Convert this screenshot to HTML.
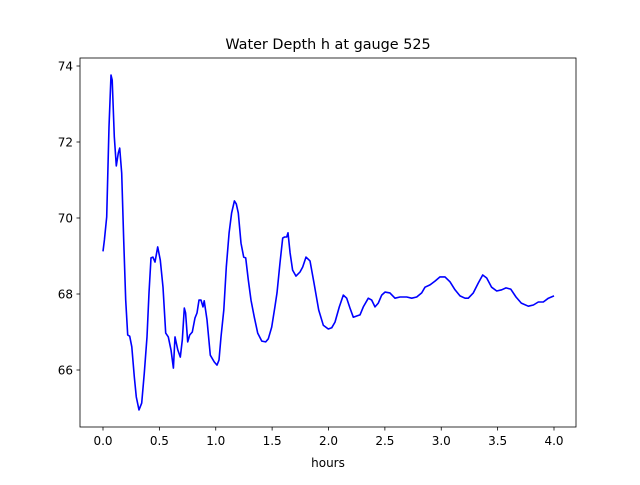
<!DOCTYPE html>
<html><head><meta charset="utf-8"><style>
body{margin:0;background:#fff}
svg text{font-family:"DejaVu Sans","Liberation Sans",sans-serif;fill:#000}
</style></head><body>
<svg id="chart" width="640" height="480" xmlns="http://www.w3.org/2000/svg">
<rect width="640" height="480" fill="#fff"/>
<text x="328" y="49" font-size="14.4" text-anchor="middle">Water Depth h at gauge 525</text>
<g id="xt"></g>
<g id="yt"></g>
<polyline id="line" fill="none" stroke="#0000ff" stroke-width="1.6" stroke-linejoin="round"/>
<rect x="80" y="58" width="496" height="369" fill="none" stroke="#000" stroke-width="0.8"/>
<text x="328" y="467" font-size="12" text-anchor="middle">hours</text>
</svg>
<script>
const hours=[0.0,0.012,0.033,0.053,0.071,0.082,0.100,0.118,0.136,0.148,0.166,0.184,0.201,0.219,0.237,0.255,0.278,0.295,0.319,0.343,0.366,0.390,0.408,0.426,0.443,0.461,0.485,0.508,0.532,0.556,0.579,0.603,0.624,0.639,0.663,0.686,0.703,0.721,0.733,0.751,0.769,0.792,0.816,0.834,0.851,0.869,0.887,0.898,0.922,0.952,0.987,1.011,1.029,1.047,1.071,1.094,1.118,1.141,1.165,1.182,1.200,1.224,1.248,1.266,1.289,1.313,1.342,1.372,1.408,1.443,1.466,1.496,1.525,1.543,1.570,1.594,1.611,1.629,1.641,1.659,1.682,1.712,1.747,1.771,1.800,1.836,1.871,1.913,1.954,1.998,2.028,2.058,2.096,2.131,2.161,2.191,2.220,2.250,2.279,2.309,2.353,2.383,2.412,2.442,2.472,2.501,2.545,2.590,2.634,2.694,2.738,2.782,2.827,2.856,2.900,2.945,2.989,3.033,3.078,3.122,3.166,3.211,3.240,3.284,3.329,3.368,3.403,3.447,3.492,3.536,3.574,3.616,3.663,3.710,3.772,3.817,3.861,3.905,3.950,4.0];
const depth=[69.12,69.42,70.03,72.40,73.76,73.63,72.14,71.37,71.71,71.84,71.18,69.42,67.84,66.92,66.89,66.61,65.82,65.29,64.95,65.13,65.92,66.87,68.03,68.95,68.97,68.84,69.24,68.89,68.18,66.97,66.87,66.53,66.05,66.87,66.53,66.34,66.79,67.63,67.50,66.74,66.92,67.00,67.37,67.50,67.84,67.84,67.66,67.82,67.32,66.39,66.21,66.13,66.26,66.87,67.58,68.71,69.61,70.13,70.45,70.37,70.13,69.34,68.97,68.95,68.37,67.84,67.39,66.97,66.76,66.74,66.82,67.13,67.66,68.03,68.82,69.47,69.50,69.50,69.61,69.08,68.63,68.47,68.58,68.71,68.97,68.87,68.29,67.58,67.18,67.08,67.11,67.26,67.66,67.97,67.89,67.63,67.39,67.42,67.45,67.66,67.89,67.84,67.66,67.76,67.97,68.05,68.03,67.89,67.92,67.92,67.89,67.92,68.03,68.18,68.24,68.34,68.45,68.45,68.32,68.11,67.95,67.89,67.89,68.03,68.29,68.50,68.42,68.18,68.08,68.11,68.16,68.13,67.92,67.76,67.68,67.71,67.79,67.79,67.89,67.95];
const xTicks=["0.0","0.5","1.0","1.5","2.0","2.5","3.0","3.5","4.0"];
const yTicks=["66","68","70","72","74"];
const xs=h=>103+h*112.75, ys=v=>66+(74-v)*38;
const NS="http://www.w3.org/2000/svg";
document.getElementById('line').setAttribute('points',hours.map((h,i)=>xs(h).toFixed(1)+','+ys(depth[i]).toFixed(1)).join(' '));
const xt=document.getElementById('xt'), yt=document.getElementById('yt');
xTicks.forEach(t=>{const x=xs(parseFloat(t));
 const l=document.createElementNS(NS,'line');
 
 
 l.setAttribute('x1',x);l.setAttribute('x2',x);l.setAttribute('y1',427);l.setAttribute('y2',430.5);l.setAttribute('stroke','#000');l.setAttribute('stroke-width','0.8');xt.appendChild(l);
 const tx=document.createElementNS(NS,'text');
 
 
 tx.setAttribute('x',x);tx.setAttribute('y',445);tx.setAttribute('font-size','12');tx.setAttribute('text-anchor','middle');tx.textContent=t;xt.appendChild(tx);});
yTicks.forEach(t=>{const y=ys(parseFloat(t));
 const l=document.createElementNS(NS,'line');
 
 
 l.setAttribute('x1',76.5);l.setAttribute('x2',80);l.setAttribute('y1',y);l.setAttribute('y2',y);l.setAttribute('stroke','#000');l.setAttribute('stroke-width','0.8');yt.appendChild(l);
 const tx=document.createElementNS(NS,'text');
 
 
 tx.setAttribute('x',73);tx.setAttribute('y',y+4.5);tx.setAttribute('font-size','12');tx.setAttribute('text-anchor','end');tx.textContent=t;yt.appendChild(tx);});
</script>
</body></html>
